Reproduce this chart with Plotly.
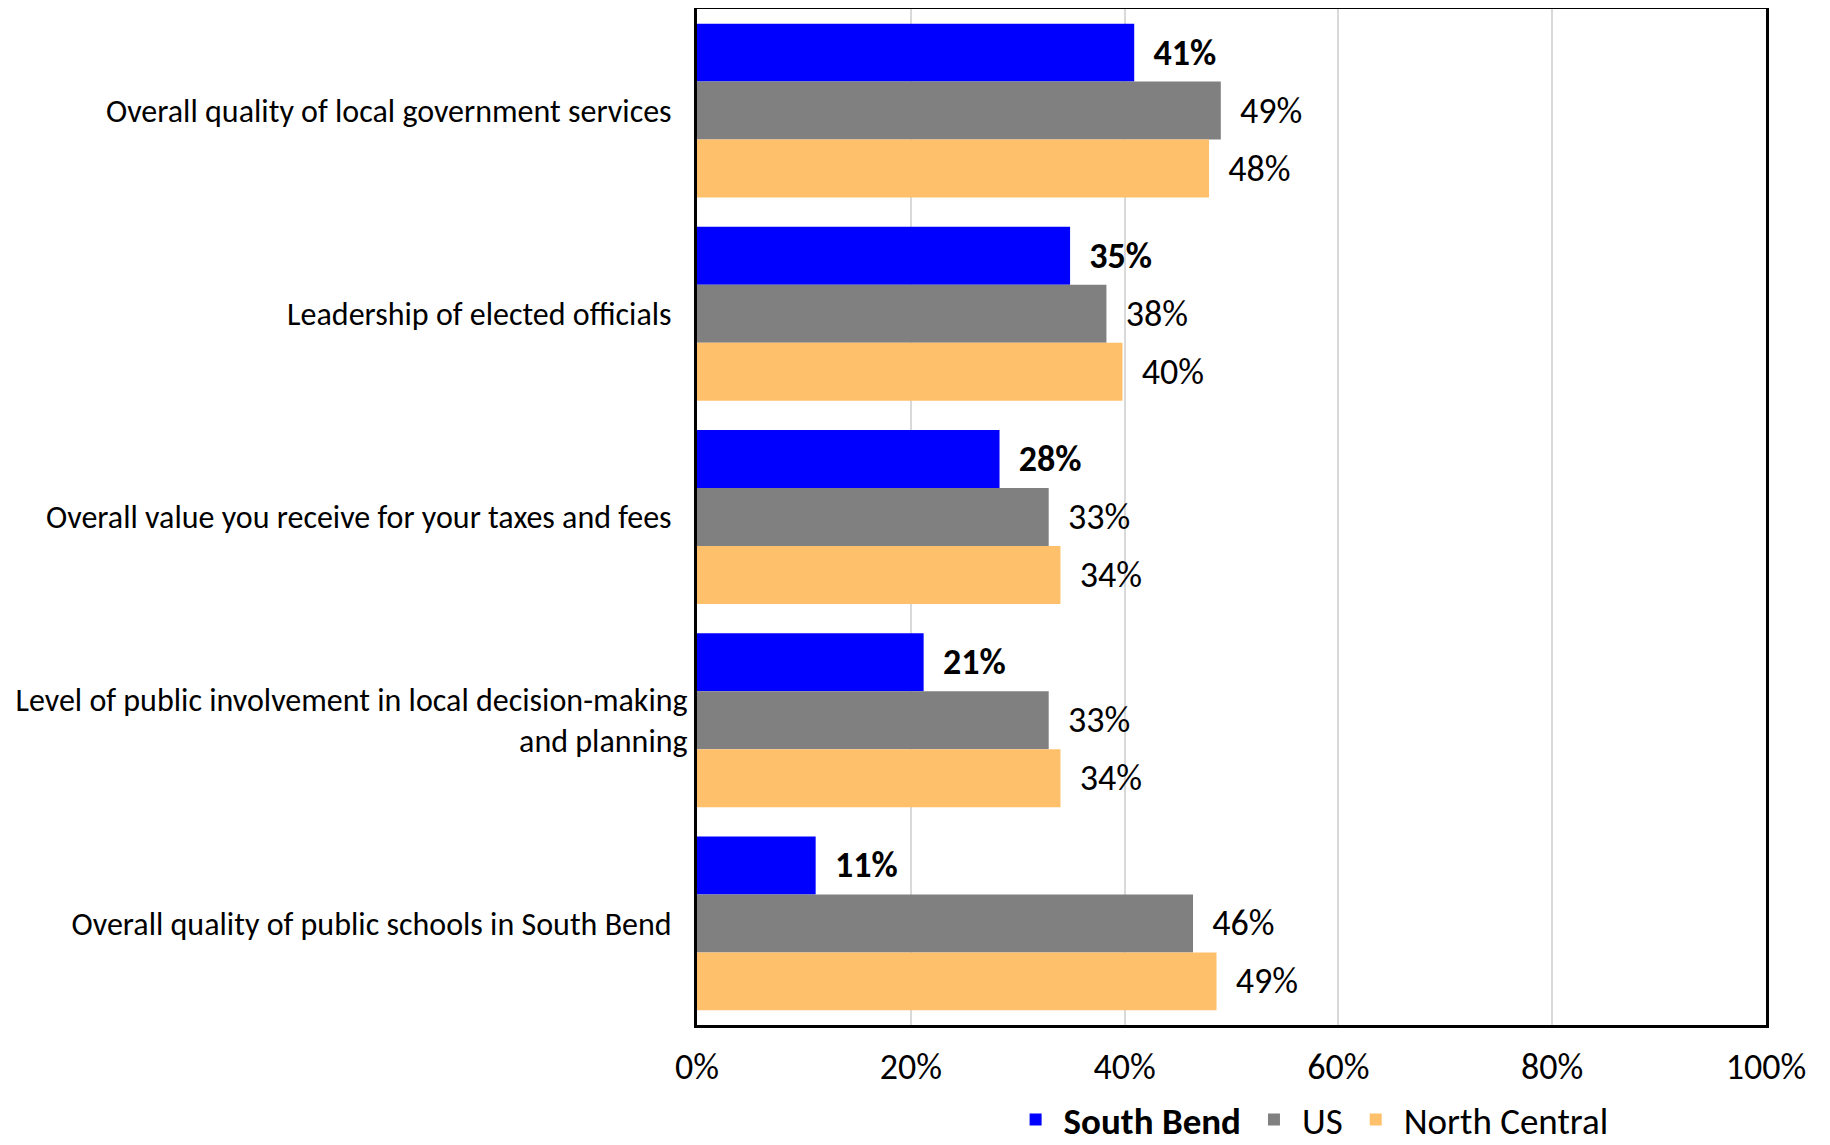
import plotly.graph_objects as go

categories = [
    "Overall quality of local government services\u2002",
    "Leadership of elected officials\u2002",
    "Overall value you receive for your taxes and fees\u2002",
    "Level of public involvement in local decision-making<br>and planning",
    "Overall quality of public schools in South Bend\u2002",
]
south_bend = [40.9, 34.9, 28.3, 21.2, 11.1]
us = [49.0, 38.3, 32.9, 32.9, 46.4]
north_central = [47.9, 39.8, 34.0, 34.0, 48.6]
x_ticks = [0, 20, 40, 60, 80, 100]
x_tick_labels = ["0%", "20%", "40%", "60%", "80%", "100%"]

FONT = "Carlito, Lato, 'Liberation Sans', sans-serif"
FS_CAT = 32
FS_NUM = 36
FS_LEG = 37

series = [
    ("<b>South Bend</b>", south_bend, "#0000FF", True),
    ("US", us, "#808080", False),
    ("North Central", north_central, "#FFC06B", False),
]

fig = go.Figure()
for name, vals, color, bold in series:
    if bold:
        texts = ["  <b>%d%%</b>" % round(v) for v in vals]
    else:
        texts = ["  %d%%" % round(v) for v in vals]
    fig.add_trace(go.Bar(
        y=categories, x=vals, name=name, orientation="h",
        marker=dict(color=color, line=dict(width=0)),
        text=texts, textposition="outside", cliponaxis=False,
        constraintext="none",
        textfont=dict(family=FONT, size=FS_NUM, color="black"),
        hoverinfo="skip",
    ))

fig.update_layout(
    width=1822, height=1137,
    margin=dict(l=689, r=64, t=1, b=120, autoexpand=False),
    barmode="group", bargap=0.144, bargroupgap=0,
    plot_bgcolor="white", paper_bgcolor="white",
    font=dict(family=FONT, size=FS_CAT, color="black"),
    showlegend=True,
    legend=dict(orientation="h", x=0.574, xanchor="center", y=-0.0935, yanchor="middle",
                font=dict(family=FONT, size=FS_LEG, color="black"), traceorder="normal",
                itemwidth=46),
)
fig.update_xaxes(
    range=[0, 100], tickvals=x_ticks, ticktext=x_tick_labels,
    showgrid=True, gridcolor="#D9D9D9", gridwidth=1.5,
    showline=True, linecolor="black", linewidth=3, mirror=True,
    zeroline=False, ticks="", ticklabelstandoff=8,
    tickfont=dict(family=FONT, size=FS_NUM, color="black"),
)
fig.update_yaxes(
    autorange="reversed", showgrid=False,
    showline=True, linecolor="black", linewidth=3, mirror=True,
    ticks="", ticklabelstandoff=0,
    tickfont=dict(family=FONT, size=FS_CAT, color="black"),
)

fig.write_html("out.html")
